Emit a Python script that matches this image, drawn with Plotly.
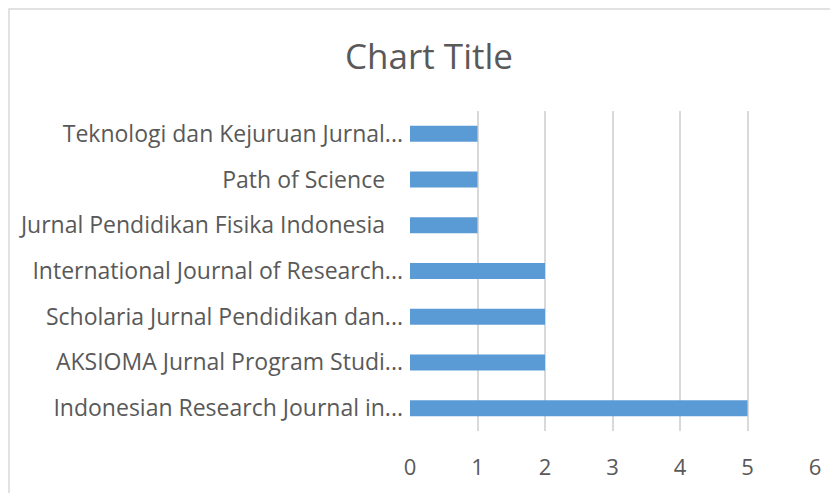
import plotly.graph_objects as go

categories = [
    "Indonesian Research Journal in...",
    "AKSIOMA Jurnal Program Studi...",
    "Scholaria Jurnal Pendidikan dan...",
    "International Journal of Research...",
    "Jurnal Pendidikan Fisika Indonesia\u00a0\u00a0\u00a0",
    "Path of Science\u00a0\u00a0\u00a0",
    "Teknologi dan Kejuruan Jurnal...",
]
values = [5, 2, 2, 2, 1, 1, 1]
x_ticks = [0, 1, 2, 3, 4, 5, 6]

# page body has an 8px default margin, so target pixel p maps to figure pixel p - 8
OFF = 8
W, H = 838, 493
L, R, T, B = 409.5 - OFF, W - (815 - OFF), 111 - OFF, H - (431 - OFF)
pw, ph = W - L - R, H - T - B

def px_x(p):
    return (p - OFF - L) / pw

def px_y(p):
    return (H - B - (p - OFF)) / ph

FONT = "Open Sans"
TXT = "#595959"
GRID = "#d9d9d9"

fig = go.Figure(go.Bar(
    x=values, y=categories, orientation="h",
    marker=dict(color="#5B9BD5", line=dict(width=0)),
    width=0.35,
))

fig.update_layout(
    width=W, height=H,
    margin=dict(l=L, r=R, t=T, b=B, pad=0),
    paper_bgcolor="white", plot_bgcolor="white",
    showlegend=False,
    title=dict(text="Chart Title", x=(429 - OFF) / W, xanchor="center",
               y=1 - (57 - OFF) / H, yanchor="middle",
               font=dict(family=FONT, size=35, color=TXT)),
    font=dict(family=FONT, color=TXT),
    xaxis=dict(range=[0, 6], tickvals=x_ticks, showgrid=True, gridcolor=GRID,
               gridwidth=1.5, zeroline=False, showline=False, ticks="",
               tickfont=dict(size=22, color=TXT), ticklabelstandoff=21),
    yaxis=dict(type="category", showgrid=False, zeroline=False, showline=False,
               ticks="", tickfont=dict(size=23, color=TXT), ticklabelstandoff=6),
    shapes=[dict(type="rect", xref="paper", yref="paper",
                 x0=px_x(8), x1=px_x(W + 30), y0=px_y(H + 30), y1=px_y(9),
                 line=dict(color=GRID, width=1.5), fillcolor="rgba(0,0,0,0)",
                 layer="below")],
)

fig.write_html("out.html")
